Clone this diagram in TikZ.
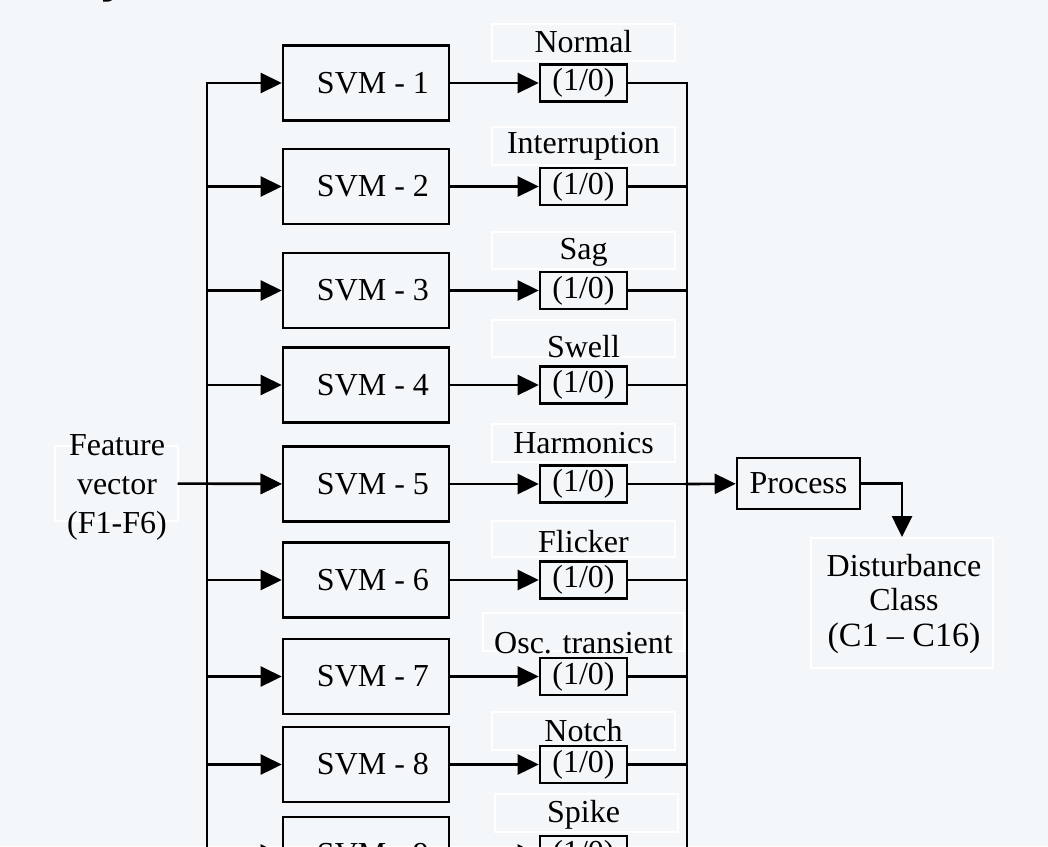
\documentclass[tikz,border=0pt]{standalone}
\usepackage{fontspec}
\setmainfont{Liberation Serif}
\newfontfamily\titlefont{DejaVu Sans}
\usetikzlibrary{arrows.meta}
\definecolor{bg}{RGB}{243,247,250}
\newcommand\dgfont{\fontsize{32}{39}\selectfont}
\begin{document}
\begin{tikzpicture}[x=1pt,y=-1pt,
  line/.style={line width=2.6pt, line cap=rect},
  arr/.style={line, -{Triangle[length=21pt,width=20pt]}},
  svmbox/.style={draw, line width=2.6pt, minimum width=166pt, minimum height=75pt, inner sep=0pt, font=\dgfont},
  outbox/.style={draw, line width=2.6pt, minimum width=87pt, minimum height=37pt, inner sep=0pt, font=\dgfont},
  lbl/.style={inner sep=0pt, font=\dgfont},
  lblbox/.style={draw=white, line width=2pt, inner sep=0pt}]
\fill[bg] (0,0) rectangle (1048,846);
\useasboundingbox (0,0) rectangle (1048,846);
\clip (0,0) rectangle (1048,846);
% cropped title fragment
\node[anchor=base west, inner sep=0pt, font=\titlefont\bfseries\fontsize{40}{40}\selectfont] (ttl) at (99,-6.5) {y};
% rows
\foreach \i/\c/\t/\bt/\bb/\bl/\br/\name in {
1/83/42/24/61/492/675/Normal,
2/186.5/146/127/165/492/675/Interruption,
3/290.5/252/232/269/492/675/Sag,
4/385/347/320/357/492/675/Swell,
5/484/443/424/462/492/675/Harmonics,
6/580/542/521/557/492/675/Flicker,
7/676.5/643/613/651/483/684/Osc. transient,
8/764.5/731/712/750/492/675/Notch,
9/854.5/815/794/832/495/678/Spike}
{
  \draw[lblbox] (\bl,\bt) rectangle (\br,\bb);
  \node[svmbox] (svm\i) at (366,\c) {\hspace*{14pt}SVM - \i};
  \node[outbox] (out\i) at (583.5,\c) {(1/0)};
  \node[lbl] (lab\i) at (583.5,\t) {\name};
  \coordinate (bl\i) at (207,\c);
  \coordinate (br\i) at (687,\c);
  \draw[arr] (bl\i) -- (svm\i);
  \draw[arr] (svm\i) -- (out\i);
  \draw[line] (out\i) -- (br\i);
}
% buses
\coordinate (lbot) at (207,900);
\coordinate (rbot) at (687,900);
\draw[line] (lbot) -- (bl1);
\draw[line] (rbot) -- (br1);
% feature vector
\node[lblbox, minimum width=123pt, minimum height=75pt] (featbox) at (116.5,483.5) {};
\node[lbl, align=center] (feat) at (117,487) {Feature\\vector\\(F1-F6)};
\draw[arr] (featbox) -- (svm5);
% process
\node[draw, line width=2.6pt, minimum width=123pt, minimum height=51pt, inner sep=0pt, font=\dgfont] (proc) at (798.5,483.5) {Process};
\draw[arr] (br5) -- (proc);
% disturbance class
\node[lblbox, minimum width=182pt, minimum height=130pt] (dist) at (902,603) {};
\node[lbl, align=center, font=\fontsize{32}{34}\selectfont] (distlab) at (904,604) {Disturbance\\Class\\[2pt]{\fontsize{34}{36}\selectfont(C1 -- C16)}};
\coordinate (pc) at (902,483.5);
\draw[arr] (proc) -- (pc) -- (dist);
\end{tikzpicture}
\end{document}
